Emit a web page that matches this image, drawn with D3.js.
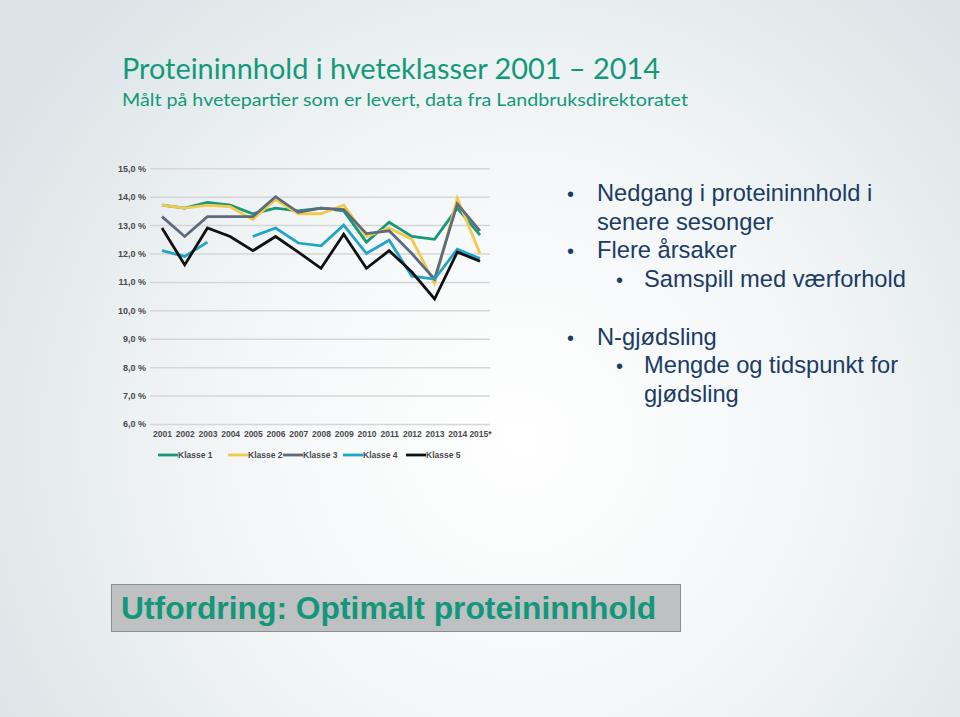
<!DOCTYPE html>
<html>
<head>
<meta charset="utf-8">
<script src="https://cdn.jsdelivr.net/npm/d3@7"></script>
<style>
  body { margin: 0; background: #fff; }
  svg { display: block; }
</style>
</head>
<body>
<div id="chart"></div>
<script>
var years = ["2001","2002","2003","2004","2005","2006","2007","2008","2009","2010","2011","2012","2013","2014","2015*"];
var yTicks = [15, 14, 13, 12, 11, 10, 9, 8, 7, 6];

var klasse1 = [13.7, 13.6, 13.8, 13.7, 13.4, 13.6, 13.5, 13.6, 13.5, 12.4, 13.1, 12.6, 12.5, 13.6, 12.65];
var klasse2 = [13.7, 13.6, 13.7, 13.65, 13.2, 13.9, 13.4, 13.4, 13.7, 12.6, 12.9, 12.5, 10.95, 13.95, 12.0];
var klasse3 = [13.3, 12.6, 13.3, 13.3, 13.3, 14.0, 13.45, 13.6, 13.55, 12.7, 12.8, 12.0, 11.1, 13.75, 12.8];
var klasse4 = [12.1, 11.9, 12.4, null, 12.6, 12.9, 12.37, 12.27, 13.0, 12.0, 12.47, 11.2, 11.1, 12.15, 11.82];
var klasse5 = [12.9, 11.6, 12.9, 12.6, 12.1, 12.6, 12.05, 11.48, 12.68, 11.48, 12.1, 11.35, 10.4, 12.05, 11.73];

var seriesNames = ["Klasse 1", "Klasse 2", "Klasse 3", "Klasse 4", "Klasse 5"];
var seriesColors = ["#17987a", "#f2c94c", "#5e6a7d", "#21a4c9", "#111111"];
var series = [klasse1, klasse2, klasse3, klasse4, klasse5];

var bullets = [
  {text: "Nedgang i proteininnhold i", level: 1, bullet: true},
  {text: "senere sesonger", level: 1, bullet: false},
  {text: "Flere årsaker", level: 1, bullet: true},
  {text: "Samspill med værforhold", level: 2, bullet: true},
  {text: "", level: 1, bullet: false},
  {text: "N-gjødsling", level: 1, bullet: true},
  {text: "Mengde og tidspunkt for", level: 2, bullet: true},
  {text: "gjødsling", level: 2, bullet: false}
];

var width = 960, height = 717;

var svg = d3.select("#chart").append("svg")
    .attr("width", width)
    .attr("height", height);

// slide background
var defs = svg.append("defs");
var grad = defs.append("radialGradient")
    .attr("id", "bg")
    .attr("gradientUnits", "userSpaceOnUse")
    .attr("cx", 520).attr("cy", 440).attr("r", 600);
grad.append("stop").attr("offset", "0%").attr("stop-color", "#ffffff");
grad.append("stop").attr("offset", "50%").attr("stop-color", "#f3f6f7");
grad.append("stop").attr("offset", "100%").attr("stop-color", "#dce4e7");

svg.append("rect")
    .attr("width", width).attr("height", height)
    .attr("fill", "url(#bg)");

// title
svg.append("text")
    .attr("x", 122).attr("y", 79)
    .attr("textLength", 538).attr("lengthAdjust", "spacingAndGlyphs")
    .style("font-family", "Lato, 'Open Sans', sans-serif")
    .style("font-size", "29px")
    .style("fill", "#13997a")
    .text("Proteininnhold i hveteklasser 2001 – 2014");

svg.append("text")
    .attr("x", 122).attr("y", 106)
    .attr("textLength", 566).attr("lengthAdjust", "spacingAndGlyphs")
    .style("font-family", "Lato, 'Open Sans', sans-serif")
    .style("font-size", "18px")
    .style("fill", "#13997a")
    .text("Målt på hvetepartier som er levert, data fra Landbruksdirektoratet");

// chart
var x = d3.scalePoint()
    .domain(years)
    .range([162, 480]);

var y = d3.scaleLinear()
    .domain([6, 15])
    .range([424, 168.3]);

var chart = svg.append("g");

var yAxis = d3.axisLeft(y)
    .tickValues(yTicks)
    .tickSize(-340)
    .tickPadding(6)
    .tickFormat(function (d) { return d3.format(".1f")(d).replace(".", ",") + " %"; });

var gy = chart.append("g")
    .attr("transform", "translate(150,0)")
    .call(yAxis);
gy.select(".domain").remove();
gy.selectAll(".tick line")
    .attr("stroke", "#d6d6d6")
    .attr("stroke-width", 1.5);
gy.selectAll(".tick text")
    .attr("x", -4)
    .style("font-family", "'Liberation Sans', Arial, sans-serif")
    .style("font-size", "9px")
    .style("font-weight", "bold")
    .style("fill", "#4a4a4a");

var xAxis = d3.axisBottom(x).tickSize(0).tickPadding(0);
var gx = chart.append("g")
    .attr("transform", "translate(0,431)")
    .call(xAxis);
gx.select(".domain").remove();
gx.selectAll(".tick text")
    .style("font-family", "'Liberation Sans', Arial, sans-serif")
    .style("font-size", "8.5px")
    .style("font-weight", "bold")
    .style("fill", "#4a4a4a");

var line = d3.line()
    .defined(function (d) { return d != null; })
    .x(function (d, i) { return x(years[i]); })
    .y(function (d) { return y(d); });

chart.selectAll(".series")
    .data(series)
    .enter().append("path")
    .attr("class", "series")
    .attr("d", line)
    .attr("fill", "none")
    .attr("stroke", function (d, i) { return seriesColors[i]; })
    .attr("stroke-width", 2.8)
    .attr("stroke-linejoin", "miter");

// legend
var legendX = [158, 228, 283, 343, 406];
var legend = chart.selectAll(".legend")
    .data(seriesNames)
    .enter().append("g")
    .attr("class", "legend")
    .attr("transform", function (d, i) { return "translate(" + legendX[i] + ",455)"; });

legend.append("line")
    .attr("x1", 0).attr("x2", 20)
    .attr("stroke", function (d, i) { return seriesColors[i]; })
    .attr("stroke-width", 2.8);

legend.append("text")
    .attr("x", 20).attr("y", 3)
    .style("font-family", "'Liberation Sans', Arial, sans-serif")
    .style("font-size", "8.5px")
    .style("font-weight", "bold")
    .style("fill", "#4a4a4a")
    .text(function (d) { return d; });

// bullet list
var bl = svg.append("g")
    .style("font-family", "'Liberation Sans', Arial, sans-serif")
    .style("fill", "#1b3c64");

bullets.forEach(function (b, i) {
  var by = 201 + i * 28.7;
  var tx = b.level === 1 ? 597 : 644;
  var bx = b.level === 1 ? 567 : 616;
  if (b.bullet) {
    bl.append("text")
      .attr("x", bx).attr("y", by)
      .style("font-size", "20px")
      .text("•");
  }
  bl.append("text")
    .attr("x", tx).attr("y", by)
    .style("font-size", "23.7px")
    .text(b.text);
});

// bottom box
svg.append("rect")
    .attr("x", 111.5).attr("y", 584.5)
    .attr("width", 569).attr("height", 47)
    .attr("fill", "#bfc0c1")
    .attr("stroke", "#8c8f92")
    .attr("stroke-width", 1);

svg.append("text")
    .attr("x", 121).attr("y", 619)
    .style("font-family", "'Liberation Sans', Arial, sans-serif")
    .style("font-size", "31.8px")
    .style("font-weight", "bold")
    .style("fill", "#12977a")
    .text("Utfordring: Optimalt proteininnhold");
</script>
</body>
</html>
